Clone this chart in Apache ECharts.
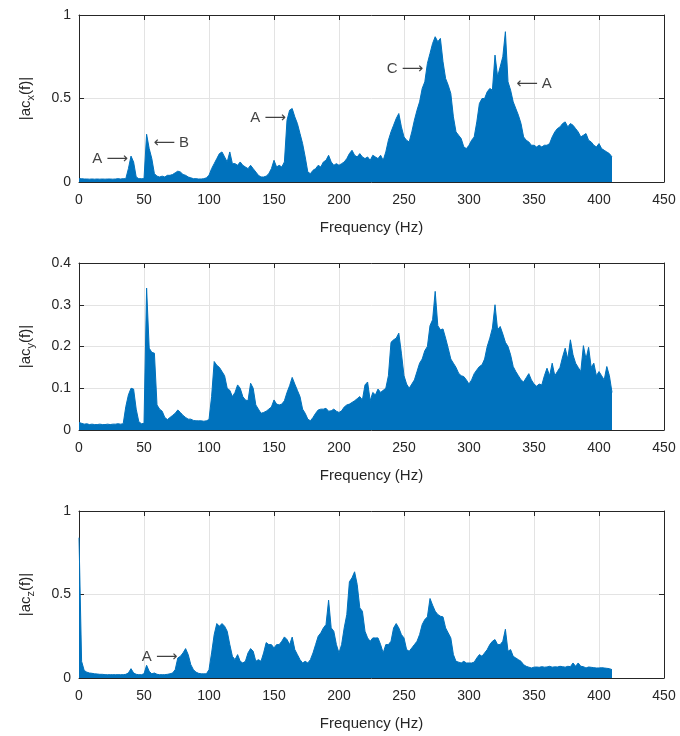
<!DOCTYPE html>
<html>
<head>
<meta charset="utf-8">
<script src="https://cdn.jsdelivr.net/npm/echarts@6/dist/echarts.min.js"></script>
<style>html,body{margin:0;padding:0;background:#fff;}#c{width:680px;height:736px;}</style>
</head>
<body>
<div id="c"></div>
<script>
// Frequency grid (Hz), every 2 Hz from 0 to 410
const freqs = [];
for (let f = 0; f <= 410; f += 2) freqs.push(f);

// Upper envelope of |ac_x(f)|
const acx = [
0.02,0.02,0.018,0.018,0.017,0.018,0.017,0.018,0.017,0.018,
0.017,0.018,0.018,0.017,0.018,0.02,0.018,0.02,0.02,0.08,
0.155,0.12,0.03,0.02,0.02,0.02,0.286,0.2,0.14,0.05,
0.035,0.03,0.035,0.03,0.04,0.04,0.045,0.055,0.065,0.06,
0.045,0.04,0.03,0.025,0.02,0.02,0.018,0.018,0.02,0.025,
0.04,0.08,0.11,0.14,0.17,0.18,0.15,0.12,0.18,0.11,
0.11,0.1,0.12,0.1,0.09,0.08,0.1,0.08,0.06,0.04,
0.03,0.03,0.035,0.05,0.08,0.13,0.09,0.1,0.09,0.12,
0.37,0.43,0.44,0.39,0.35,0.29,0.23,0.15,0.06,0.05,
0.07,0.08,0.1,0.09,0.12,0.13,0.16,0.12,0.1,0.11,
0.1,0.11,0.12,0.14,0.17,0.19,0.16,0.15,0.17,0.15,
0.14,0.15,0.13,0.16,0.15,0.14,0.16,0.13,0.18,0.25,
0.3,0.34,0.38,0.41,0.33,0.27,0.25,0.24,0.3,0.37,
0.43,0.48,0.56,0.6,0.71,0.77,0.83,0.87,0.84,0.86,
0.72,0.62,0.58,0.53,0.39,0.3,0.28,0.26,0.21,0.2,
0.22,0.25,0.27,0.36,0.47,0.5,0.5,0.54,0.56,0.55,
0.76,0.63,0.69,0.75,0.9,0.6,0.55,0.48,0.44,0.4,
0.35,0.27,0.25,0.24,0.22,0.22,0.21,0.22,0.21,0.22,
0.22,0.23,0.27,0.3,0.32,0.33,0.35,0.36,0.33,0.35,
0.34,0.32,0.3,0.27,0.28,0.29,0.25,0.24,0.22,0.21,
0.23,0.2,0.19,0.18,0.17,0.15
];

// Upper envelope of |ac_y(f)|
const acy = [
0.018,0.016,0.014,0.015,0.013,0.014,0.013,0.013,0.014,0.013,
0.013,0.014,0.013,0.014,0.014,0.015,0.014,0.015,0.056,0.084,
0.1,0.098,0.05,0.02,0.015,0.016,0.34,0.196,0.186,0.184,
0.06,0.05,0.045,0.03,0.025,0.03,0.035,0.04,0.048,0.042,
0.035,0.03,0.026,0.026,0.023,0.022,0.022,0.022,0.021,0.022,
0.025,0.08,0.164,0.155,0.15,0.14,0.13,0.1,0.095,0.08,
0.09,0.108,0.1,0.08,0.072,0.07,0.112,0.1,0.06,0.05,
0.04,0.042,0.045,0.05,0.055,0.072,0.062,0.06,0.062,0.07,
0.09,0.106,0.126,0.11,0.095,0.08,0.05,0.04,0.026,0.022,
0.03,0.04,0.048,0.05,0.05,0.052,0.045,0.046,0.05,0.045,
0.042,0.046,0.055,0.06,0.062,0.066,0.07,0.075,0.08,0.072,
0.108,0.115,0.07,0.09,0.084,0.098,0.09,0.095,0.1,0.13,
0.21,0.216,0.22,0.232,0.184,0.13,0.11,0.1,0.11,0.12,
0.14,0.16,0.17,0.19,0.2,0.25,0.264,0.332,0.25,0.24,
0.242,0.22,0.196,0.17,0.16,0.15,0.136,0.13,0.128,0.12,
0.11,0.12,0.135,0.144,0.152,0.156,0.17,0.2,0.22,0.244,
0.3,0.24,0.248,0.23,0.21,0.2,0.18,0.152,0.14,0.13,
0.12,0.115,0.125,0.135,0.12,0.11,0.105,0.11,0.108,0.13,
0.148,0.13,0.16,0.13,0.14,0.15,0.175,0.196,0.17,0.216,
0.18,0.16,0.15,0.14,0.202,0.17,0.198,0.15,0.16,0.13,
0.14,0.13,0.12,0.152,0.13,0.09
];

// Upper envelope of |ac_z(f)|
const acz = [
0.84,0.1,0.045,0.035,0.03,0.028,0.025,0.024,0.022,0.022,
0.02,0.02,0.02,0.02,0.02,0.02,0.02,0.02,0.022,0.03,
0.056,0.03,0.022,0.02,0.02,0.025,0.076,0.04,0.025,0.03,
0.022,0.02,0.02,0.02,0.022,0.025,0.03,0.05,0.12,0.13,
0.15,0.176,0.14,0.08,0.05,0.035,0.028,0.025,0.025,0.025,
0.05,0.15,0.26,0.326,0.31,0.326,0.31,0.28,0.2,0.13,
0.11,0.14,0.1,0.09,0.1,0.15,0.176,0.16,0.1,0.11,
0.1,0.15,0.212,0.2,0.2,0.18,0.2,0.2,0.22,0.246,
0.23,0.2,0.245,0.17,0.14,0.11,0.09,0.1,0.09,0.11,
0.15,0.2,0.25,0.27,0.3,0.32,0.466,0.3,0.28,0.2,
0.15,0.2,0.3,0.38,0.576,0.6,0.636,0.56,0.42,0.4,
0.28,0.24,0.22,0.24,0.24,0.24,0.2,0.15,0.2,0.2,
0.22,0.3,0.326,0.3,0.26,0.24,0.17,0.16,0.18,0.2,
0.22,0.26,0.32,0.35,0.366,0.476,0.436,0.4,0.38,0.37,
0.366,0.3,0.27,0.24,0.14,0.1,0.095,0.09,0.1,0.09,
0.09,0.09,0.095,0.12,0.14,0.13,0.15,0.17,0.2,0.22,
0.23,0.2,0.2,0.22,0.292,0.16,0.17,0.13,0.12,0.11,
0.1,0.08,0.07,0.065,0.06,0.065,0.066,0.064,0.068,0.065,
0.066,0.07,0.065,0.067,0.066,0.07,0.068,0.065,0.07,0.068,
0.09,0.07,0.09,0.07,0.068,0.06,0.066,0.064,0.062,0.06,
0.06,0.062,0.06,0.058,0.056,0.05
];

// Axis ticks
const xTicks = [0, 450, 50];
const yRanges = [[0, 1, 0.5], [0, 0.4, 0.1], [0, 1, 0.5]];
const yNames = ['x', 'y', 'z'];

// Annotations: [freq, value, text, side]
const notes1 = [[38.5, 0.14, 'A \u27F6', 'left'], [56.5, 0.235, '\u27F5 B', 'right'], [160, 0.385, 'A \u27F6', 'left'], [265.5, 0.68, 'C \u27F6', 'left'], [335.5, 0.59, '\u27F5 A', 'right']];
const notes2 = [];
const notes3 = [[76.5, 0.126, 'A \u27F6', 'left']];

const BLUE = '#0072BD';
const TXT = '#262626';
const FONT = 'Liberation Sans, Arial, Helvetica, sans-serif';
const NFONT = 'Liberation Sans, DejaVu Sans, sans-serif';
const tops = [15, 263, 511];
const H = 167;

const grid = [], xAxis = [], yAxis = [], series = [];
const allData = [acx, acy, acz];
const allNotes = [notes1, notes2, notes3];

for (let i = 0; i < 3; i++) {
  grid.push({left: 79, width: 585, top: tops[i], height: H, show: false});
  const [ymin, ymax, yint] = yRanges[i];
  xAxis.push({
    gridIndex: i, type: 'value', min: xTicks[0], max: xTicks[1], interval: xTicks[2], position: 'bottom',
    name: 'Frequency (Hz)', nameLocation: 'middle', nameGap: 38,
    nameTextStyle: {fontSize: 15, color: TXT, fontFamily: FONT},
    axisLine: {show: true, onZero: false, lineStyle: {color: TXT, width: 1}},
    axisTick: {show: true, inside: true, length: 5, lineStyle: {color: TXT}},
    axisLabel: {fontSize: 14, color: TXT, fontFamily: FONT, margin: 11},
    splitLine: {show: true, lineStyle: {color: '#e3e3e3', width: 1}}
  });
  xAxis.push({
    gridIndex: i, type: 'value', min: xTicks[0], max: xTicks[1], interval: xTicks[2], position: 'top',
    axisLine: {show: true, onZero: false, lineStyle: {color: TXT, width: 1}},
    axisTick: {show: true, inside: true, length: 5, lineStyle: {color: TXT}},
    axisLabel: {show: false}, splitLine: {show: false}
  });
  yAxis.push({
    gridIndex: i, type: 'value', min: ymin, max: ymax, interval: yint, position: 'left',
    name: '|ac{s|' + yNames[i] + '}(f)|', nameLocation: 'middle', nameGap: 43, nameRotate: 90,
    nameTextStyle: {fontSize: 15, color: TXT, fontFamily: FONT,
      rich: {s: {fontSize: 11, color: TXT, fontFamily: FONT, padding: [9, 0, 0, 0]}}},
    axisLine: {show: true, onZero: false, lineStyle: {color: TXT, width: 1}},
    axisTick: {show: true, inside: true, length: 5, lineStyle: {color: TXT}},
    axisLabel: {fontSize: 14, color: TXT, fontFamily: FONT, margin: 8},
    splitLine: {show: true, lineStyle: {color: '#e3e3e3', width: 1}}
  });
  yAxis.push({
    gridIndex: i, type: 'value', min: ymin, max: ymax, interval: yint, position: 'right',
    axisLine: {show: true, onZero: false, lineStyle: {color: TXT, width: 1}},
    axisTick: {show: true, inside: true, length: 5, lineStyle: {color: TXT}},
    axisLabel: {show: false}, splitLine: {show: false}
  });
  series.push({
    type: 'line', xAxisIndex: 2 * i, yAxisIndex: 2 * i,
    data: freqs.map((f, k) => [f, allData[i][k]]),
    showSymbol: false, symbol: 'none', smooth: false,
    lineStyle: {color: BLUE, width: 1},
    areaStyle: {color: BLUE, opacity: 1, origin: 'start'},
    z: 3, animation: false
  });
  if (allNotes[i].length) {
    series.push({
      type: 'scatter', xAxisIndex: 2 * i, yAxisIndex: 2 * i,
      symbolSize: 0, z: 5, animation: false,
      data: allNotes[i].map(n => ({value: [n[0], n[1]], name: n[2],
        label: {show: true, position: n[3], distance: 1, formatter: n[2],
          fontSize: 15, color: '#111', fontFamily: NFONT}}))
    });
  }
}

const chart = echarts.init(document.getElementById('c'), null, {renderer: 'canvas'});
chart.setOption({animation: false, backgroundColor: '#fff', grid, xAxis, yAxis, series});
</script>
</body>
</html>
